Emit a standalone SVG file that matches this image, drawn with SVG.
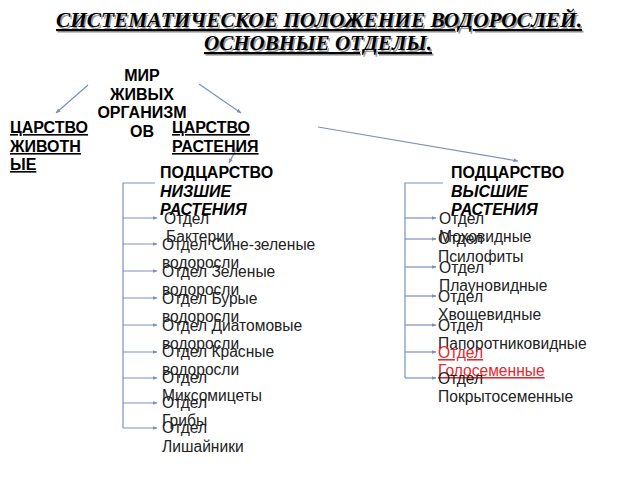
<svg xmlns="http://www.w3.org/2000/svg" width="640" height="480" viewBox="0 0 640 480">
<defs>
<marker id="ah" viewBox="0 0 10 10" refX="9" refY="5" markerWidth="5" markerHeight="5" orient="auto" markerUnits="userSpaceOnUse">
<path d="M0,1 L10,5 L0,9 z" fill="#7d8fc0"/>
</marker>
<style>
.title{font-family:"Liberation Serif",serif;font-size:21px;font-weight:bold;font-style:italic;text-decoration:underline;}
.ts{fill:#9a9a9a;}
.tm{fill:#000;}
.h{font-family:"Liberation Sans",Arial,sans-serif;font-size:16px;font-weight:bold;fill:#000;}
.u{text-decoration:underline;}
.it{font-style:italic;}
.item{font-family:"Liberation Sans",Arial,sans-serif;font-size:15.6px;fill:#222;}
.red{fill:#e8262a;text-decoration:underline;}
.c{stroke:#7d8fc0;stroke-width:1.2;fill:none;}
.ca{stroke:#7d8fc0;stroke-width:1.2;fill:none;marker-end:url(#ah);}
</style>
</defs>
<rect width="640" height="480" fill="#fff"/>

<g id="title">
<text class="title ts" x="320.5" y="28.5" text-anchor="middle" textLength="526" lengthAdjust="spacingAndGlyphs">СИСТЕМАТИЧЕСКОЕ ПОЛОЖЕНИЕ ВОДОРОСЛЕЙ.</text>
<text class="title tm" x="319" y="27" text-anchor="middle" textLength="526" lengthAdjust="spacingAndGlyphs">СИСТЕМАТИЧЕСКОЕ ПОЛОЖЕНИЕ ВОДОРОСЛЕЙ.</text>
<text class="title ts" x="319.5" y="51.5" text-anchor="middle" textLength="228" lengthAdjust="spacingAndGlyphs">ОСНОВНЫЕ ОТДЕЛЫ.</text>
<text class="title tm" x="318" y="50" text-anchor="middle" textLength="228" lengthAdjust="spacingAndGlyphs">ОСНОВНЫЕ ОТДЕЛЫ.</text>
</g>

<g id="connectors">
<line class="ca" x1="88" y1="85" x2="56" y2="113"/>
<line class="ca" x1="199" y1="84" x2="241" y2="113"/>
<line class="ca" x1="318" y1="127" x2="518" y2="161"/>
<line class="ca" x1="238" y1="146" x2="229" y2="163"/>
<polyline class="c" points="155,183 123,183 123,428"/>
<line class="ca" x1="123" y1="218" x2="157" y2="218"/>
<line class="ca" x1="123" y1="244" x2="157" y2="244"/>
<line class="ca" x1="123" y1="271" x2="157" y2="271"/>
<line class="ca" x1="123" y1="298" x2="157" y2="298"/>
<line class="ca" x1="123" y1="325" x2="157" y2="325"/>
<line class="ca" x1="123" y1="352" x2="157" y2="352"/>
<line class="ca" x1="123" y1="378" x2="157" y2="378"/>
<line class="ca" x1="123" y1="403" x2="157" y2="403"/>
<line class="ca" x1="123" y1="428" x2="157" y2="428"/>
<polyline class="c" points="443,183 405,183 405,378"/>
<line class="ca" x1="405" y1="218" x2="436" y2="218"/>
<line class="ca" x1="405" y1="239" x2="436" y2="239"/>
<line class="ca" x1="405" y1="267" x2="436" y2="267"/>
<line class="ca" x1="405" y1="296" x2="436" y2="296"/>
<line class="ca" x1="405" y1="325" x2="436" y2="325"/>
<line class="ca" x1="405" y1="352" x2="436" y2="352"/>
<line class="ca" x1="405" y1="378" x2="436" y2="378"/>
</g>

<g id="world">
<text class="h" text-anchor="middle" x="142" y="81">МИР</text>
<text class="h" text-anchor="middle" x="142" y="100">ЖИВЫХ</text>
<text class="h" text-anchor="middle" x="142" y="118">ОРГАНИЗМ</text>
<text class="h" text-anchor="middle" x="142" y="137">ОВ</text>
</g>

<g id="animals">
<text class="h u" x="10" y="133">ЦАРСТВО</text>
<text class="h u" x="10" y="152">ЖИВОТН</text>
<text class="h u" x="10" y="170">ЫЕ</text>
</g>

<g id="plants">
<text class="h u" x="172" y="133">ЦАРСТВО</text>
<text class="h u" x="172" y="152">РАСТЕНИЯ</text>
</g>

<g id="lower">
<text class="h" x="160" y="178">ПОДЦАРСТВО</text>
<text class="h it" x="160" y="197">НИЗШИЕ</text>
<text class="h it" x="160" y="215">РАСТЕНИЯ</text>
</g>

<g id="higher">
<text class="h" x="451" y="178">ПОДЦАРСТВО</text>
<text class="h it" x="451" y="197">ВЫСШИЕ</text>
<text class="h it" x="451" y="215">РАСТЕНИЯ</text>
</g>

<g id="lower-items" class="item">
<text x="164" y="224">Отдел</text><text x="166" y="242">Бактерии</text>
<text x="162" y="250">Отдел Сине-зеленые</text><text x="162" y="268">водоросли</text>
<text x="162" y="277">Отдел Зеленые</text><text x="162" y="295">водоросли</text>
<text x="162" y="304">Отдел Бурые</text><text x="162" y="322">водоросли</text>
<text x="162" y="331">Отдел Диатомовые</text><text x="162" y="349">водоросли</text>
<text x="162" y="357">Отдел Красные</text><text x="162" y="375">водоросли</text>
<text x="162" y="383">Отдел</text><text x="162" y="401">Миксомицеты</text>
<text x="162" y="408">Отдел</text><text x="162" y="426">Грибы</text>
<text x="162" y="433">Отдел</text><text x="162" y="452">Лишайники</text>
</g>

<g id="higher-items" class="item">
<text x="439" y="224">Отдел</text><text x="439" y="242">Моховидные</text>
<text x="438" y="244">Отдел</text><text x="438" y="262">Псилофиты</text>
<text x="439" y="273">Отдел</text><text x="439" y="291">Плауновидные</text>
<text x="438" y="302">Отдел</text><text x="438" y="320">Хвощевидные</text>
<text x="438" y="331">Отдел</text><text x="438" y="349">Папоротниковидные</text>
<text class="red" x="438" y="358">Отдел</text><text class="red" x="438" y="376">Голосеменные</text>
<text x="438" y="384">Отдел</text><text x="438" y="402">Покрытосеменные</text>
</g>
</svg>
